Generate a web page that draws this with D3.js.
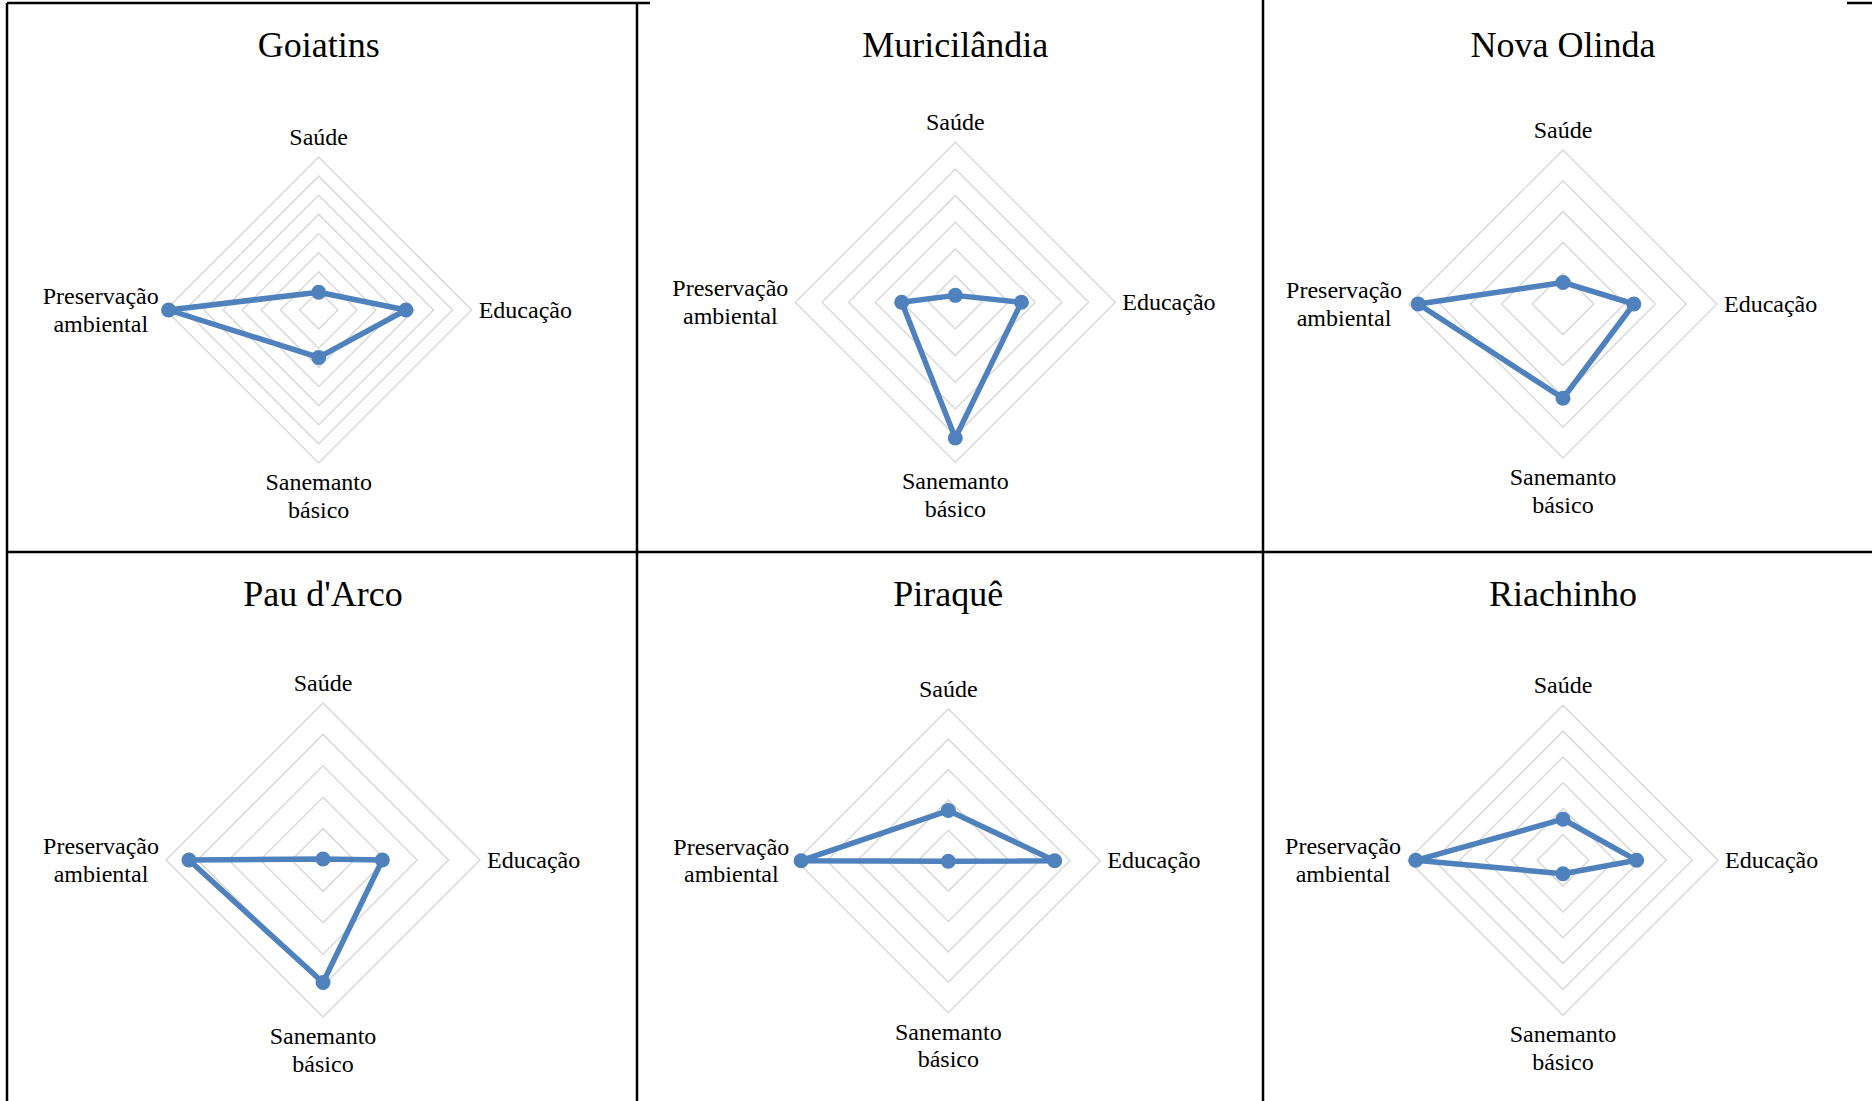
<!DOCTYPE html>
<html>
<head>
<meta charset="utf-8">
<script src="https://cdn.jsdelivr.net/npm/d3@7"></script>
<style>
  html, body { margin: 0; padding: 0; background: #fff; }
  svg { display: block; }
  text { font-family: "Times New Roman", "Liberation Serif", serif; fill: #000; }
</style>
</head>
<body>
<div id="chart"></div>
<script>
// categorias (eixos do radar) e municípios
const eixos = ["Saúde", "Educação", "Sanemanto básico", "Preservação ambiental"];
const municipios = ["Goiatins", "Muricilândia", "Nova Olinda", "Pau d'Arco", "Piraquê", "Riachinho"];

// valores (unidades da grade de cada painel)
const goiatins     = [0.93, 4.56, 2.48, 7.85];
const muricilandia = [0.26, 2.48, 5.09, 2.01];
const novaOlinda   = [0.70, 2.30, 3.06, 4.70];
const pauDarco     = [0.03, 1.89, 3.90, 4.27];
const piraque      = [1.65, 3.50, 0.02, 4.84];
const riachinho    = [1.59, 2.85, 0.52, 5.70];

// máximo da escala (número de anéis da grade, passo 1)
const escalaMax = [8, 6, 5, 5, 5, 6];

const series = [goiatins, muricilandia, novaOlinda, pauDarco, piraque, riachinho];

const W = 1872, H = 1101;
const azul = "#4f81bd";

// layout dos painéis
const panels = [
  { cx: 318.7, cy: 310,   r: 153, top: 3 },
  { cx: 955.3, cy: 302.3, r: 160, top: 3 },
  { cx: 1563,  cy: 304,   r: 154, top: 3 },
  { cx: 323,   cy: 860,   r: 157, top: 552 },
  { cx: 948.3, cy: 860.7, r: 152, top: 552 },
  { cx: 1563,  cy: 860.3, r: 155, top: 552 }
];

const svg = d3.select("#chart").append("svg")
    .attr("width", W)
    .attr("height", H);

const angle = d3.scalePoint()
    .domain(eixos)
    .range([0, 2 * Math.PI * 3 / 4]);

panels.forEach((p, i) => {
    const g = svg.append("g")
        .attr("transform", `translate(${p.cx},${p.cy})`);

    const r = d3.scaleLinear().domain([0, escalaMax[i]]).range([0, p.r]);

    const radial = d3.lineRadial()
        .angle(d => angle(d.eixo))
        .radius(d => r(d.v))
        .curve(d3.curveLinearClosed);

    // anéis da grade
    const rings = d3.range(1, escalaMax[i] + 1);
    g.selectAll(".ring")
        .data(rings)
      .enter().append("path")
        .attr("class", "ring")
        .attr("d", k => radial(eixos.map(e => ({ eixo: e, v: k }))))
        .style("fill", "none")
        .style("stroke", "#d9d9d9")
        .style("stroke-width", 1.5);

    const pts = eixos.map((e, j) => ({ eixo: e, v: series[i][j] }));

    g.append("path")
        .attr("d", radial(pts))
        .style("fill", "none")
        .style("stroke", azul)
        .style("stroke-width", 5.5)
        .style("stroke-linejoin", "round");

    g.selectAll(".pt")
        .data(pts)
      .enter().append("circle")
        .attr("class", "pt")
        .attr("cx", d => r(d.v) * Math.sin(angle(d.eixo)))
        .attr("cy", d => -r(d.v) * Math.cos(angle(d.eixo)))
        .attr("r", 7.5)
        .style("fill", azul);

    // título
    svg.append("text")
        .attr("x", p.cx)
        .attr("y", p.top + 54)
        .style("text-anchor", "middle")
        .style("font-size", "36px")
        .text(municipios[i]);

    // rótulos dos eixos
    const fs = "24px";
    g.append("text")
        .attr("x", 0)
        .attr("y", -p.r - 12)
        .style("text-anchor", "middle")
        .style("font-size", fs)
        .text(eixos[0]);

    g.append("text")
        .attr("x", p.r + 7)
        .attr("y", 7.5)
        .style("text-anchor", "start")
        .style("font-size", fs)
        .text(eixos[1]);

    const bottom = eixos[2].split(" ");
    bottom.forEach((w, k) => {
        g.append("text")
            .attr("x", 0)
            .attr("y", p.r + 27 + k * 27.5)
            .style("text-anchor", "middle")
            .style("font-size", fs)
            .text(w);
    });

    const left = eixos[3].split(" ");
    const lg = g.append("g");
    const lt = left.map((w, k) => lg.append("text")
        .attr("y", -6 + k * 27.5)
        .style("text-anchor", "middle")
        .style("font-size", fs)
        .text(w));
    const maxW = d3.max(lt, t => t.node().getComputedTextLength());
    lt.forEach(t => t.attr("x", -p.r - 7 - maxW / 2));
});

// bordas da tabela
const borda = [
  [7, 3, 7, H], [637, 3, 637, H], [1263, 0, 1263, H],
  [7, 3, 650, 3], [1847, 3, W, 3],
  [7, 552, W, 552]
];
svg.selectAll(".borda")
    .data(borda)
  .enter().append("line")
    .attr("x1", d => d[0]).attr("y1", d => d[1])
    .attr("x2", d => d[2]).attr("y2", d => d[3])
    .style("stroke", "#000")
    .style("stroke-width", 2.5);
</script>
</body>
</html>
